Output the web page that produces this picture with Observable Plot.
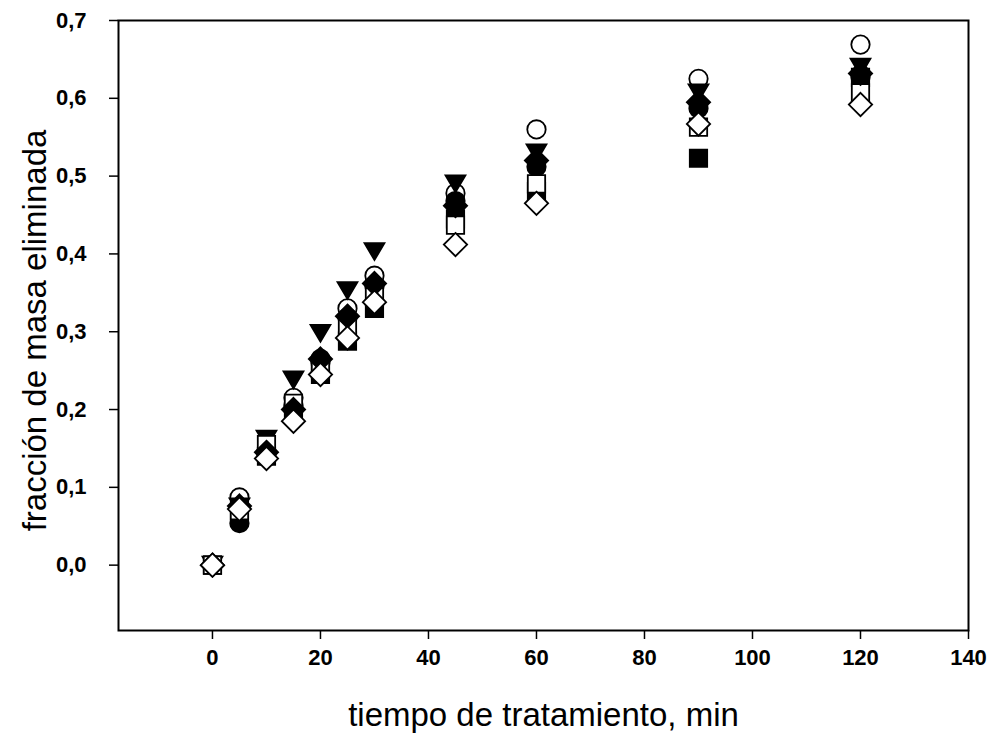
<!DOCTYPE html>
<html>
<head>
<meta charset="utf-8">
<script src="https://cdn.jsdelivr.net/npm/d3@7"></script>
<script src="https://cdn.jsdelivr.net/npm/@observablehq/plot@0.6"></script>
<style>
  html, body { margin: 0; padding: 0; background: #fff; }
  #chart svg { display: block; }
</style>
</head>
<body>
<div id="chart"></div>
<script>
// time in minutes
const times = [0, 5, 10, 15, 20, 25, 30, 45, 60, 90, 120];
// fraction of mass removed, one array per series
const openCircle    = [0, 0.087, 0.145, 0.215, 0.265, 0.330, 0.372, 0.478, 0.560, 0.625, 0.669];
const filledCircle  = [0, 0.054, 0.140, 0.205, 0.260, 0.318, 0.358, 0.468, 0.512, 0.587, 0.627];
const triangleDown  = [0, 0.075, 0.162, 0.238, 0.298, 0.353, 0.403, 0.490, 0.530, 0.607, 0.640];
const filledSquare  = [0, 0.062, 0.140, 0.195, 0.245, 0.288, 0.330, 0.445, 0.480, 0.523, 0.627];
const openSquare    = [0, 0.070, 0.155, 0.208, 0.252, 0.305, 0.345, 0.437, 0.490, 0.563, 0.607];
const filledDiamond = [0, 0.076, 0.145, 0.200, 0.265, 0.320, 0.362, 0.462, 0.520, 0.595, 0.632];
const openDiamond   = [0, 0.072, 0.137, 0.185, 0.245, 0.292, 0.338, 0.412, 0.465, 0.567, 0.592];

const xTicks = [0, 20, 40, 60, 80, 100, 120, 140];
const yTicks = [0, 0.1, 0.2, 0.3, 0.4, 0.5, 0.6, 0.7];
const xTitle = "tiempo de tratamiento, min";
const yTitle = "fracción de masa eliminada";

const rows = (vals) => times.map((t, i) => ({t, v: vals[i]}));

const triDown = {
  draw(ctx, size) {
    const w = Math.sqrt(size) * 1.22;
    const h = w * 0.85;
    ctx.moveTo(-w / 2, -h / 2);
    ctx.lineTo(w / 2, -h / 2);
    ctx.lineTo(0, h / 2);
    ctx.closePath();
  }
};

const series = [
  {vals: openCircle,    symbol: "circle",   fill: "white", r: 9.2},
  {vals: filledCircle,  symbol: "circle",   fill: "black", r: 9.2},
  {vals: triangleDown,  symbol: triDown,    fill: "black", r: 9.2},
  {vals: filledSquare,  symbol: "square",   fill: "black", r: 9.8},
  {vals: openSquare,    symbol: "square",   fill: "white", r: 9.8},
  {vals: filledDiamond, symbol: "diamond2", fill: "black", r: 10.5},
  {vals: openDiamond,   symbol: "diamond2", fill: "white", r: 10.5}
];

const fmt = d => d.toFixed(1).replace(".", ",");

const chart = Plot.plot({
  width: 997,
  height: 737,
  marginLeft: 118,
  marginRight: 29,
  marginTop: 20,
  marginBottom: 107,
  style: {fontFamily: "Liberation Sans, Arial, sans-serif", fontSize: "22px", fontWeight: "bold", background: "white", color: "black"},
  x: {domain: [-17.4, 140], ticks: xTicks, tickFormat: d => String(d)},
  y: {domain: [-0.084, 0.7], ticks: yTicks, tickFormat: fmt},
  marks: [
    Plot.frame({stroke: "black", strokeWidth: 2}),
    Plot.axisX({ticks: xTicks, tickSize: 9, tickPadding: 10, fontSize: 22, label: null, tickFormat: d => String(d), strokeWidth: 1.5}),
    Plot.axisY({ticks: yTicks, tickSize: 9, tickPadding: 23, fontSize: 22, label: null, tickFormat: fmt, strokeWidth: 1.5}),
    ...series.map(s => Plot.dot(rows(s.vals), {
      x: "t", y: "v", symbol: s.symbol, r: s.r,
      fill: s.fill, stroke: "black", strokeWidth: 1.8
    })),
    Plot.text([xTitle], {frameAnchor: "bottom", lineAnchor: "middle", textAnchor: "middle", dy: 85, fontSize: 33, fontWeight: "normal", fill: "black"}),
    Plot.text([yTitle], {frameAnchor: "left", lineAnchor: "middle", textAnchor: "middle", dx: -83, dy: 5, rotate: -90, fontSize: 33, fontWeight: "normal", fill: "black"})
  ]
});

document.getElementById("chart").appendChild(chart);
</script>
</body>
</html>
